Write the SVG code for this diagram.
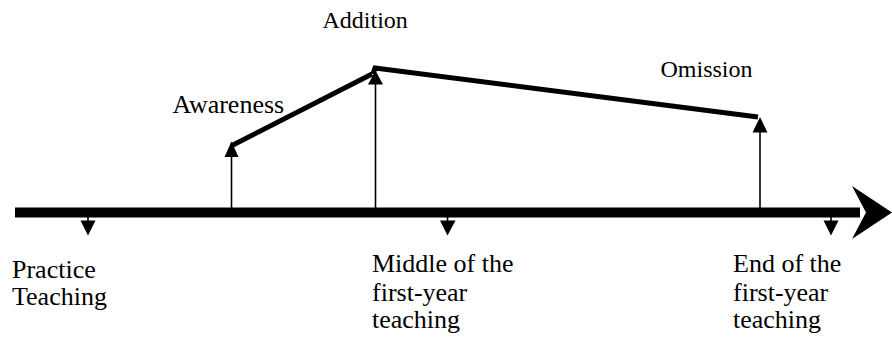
<svg xmlns="http://www.w3.org/2000/svg" width="892" height="340" viewBox="0 0 892 340">
<style>
.t{font-family:"Liberation Serif","Times New Roman",serif;fill:#000}
.big{font-size:26px}
.sm{font-size:24px}
.thin{stroke:#000;stroke-width:1.6;fill:none}
.thick{stroke:#000;stroke-width:5;fill:none}
.head{fill:#000}
</style>
<rect width="892" height="340" fill="#fff"/>
<g id="connectors">
  <rect x="15" y="207.5" width="845" height="10" fill="#000"/>
  <polygon class="head" points="852,186 892,212.5 852,239 866,212.5"/>
  <line class="thin" x1="231.5" y1="155" x2="231.5" y2="208"/>
  <polygon class="head" points="231.5,141.5 224.5,157 238.5,157"/>
  <line class="thin" x1="375.5" y1="82" x2="375.5" y2="208"/>
  <polygon class="head" points="375.5,70.5 368,84.5 383,84.5"/>
  <line class="thin" x1="760" y1="131" x2="760" y2="208"/>
  <polygon class="head" points="760,117 752.5,132.5 767.5,132.5"/>
  <line class="thick" x1="231" y1="146" x2="372" y2="74"/>
  <polyline class="thick" points="373,74 375,68 758,117"/>
  <line class="thin" x1="88" y1="217" x2="88" y2="222"/>
  <polygon class="head" points="80.5,220.5 95.5,220.5 88,235.5"/>
  <line class="thin" x1="447.5" y1="217" x2="447.5" y2="222"/>
  <polygon class="head" points="440,220.5 455.5,220.5 447.5,235.5"/>
  <line class="thin" x1="831" y1="217" x2="831" y2="222"/>
  <polygon class="head" points="823.5,220.5 838.5,220.5 831,235.5"/>
</g>
<g id="addition"><text class="t sm" x="322.5" y="28.3">Addition</text></g>
<g id="awareness"><text class="t big" x="172.5" y="113">Awareness</text></g>
<g id="omission"><text class="t sm" x="660.5" y="76.7">Omission</text></g>
<g id="practice"><text class="t big" x="12" y="277.5">Practice<tspan x="12" y="304.5">Teaching</tspan></text></g>
<g id="middle"><text class="t big" x="372" y="272.3">Middle of the<tspan x="372" y="300.5">first-year</tspan><tspan x="372" y="327.7">teaching</tspan></text></g>
<g id="end"><text class="t big" x="733" y="272.3">End of the<tspan x="733" y="300.5">first-year</tspan><tspan x="733" y="327.7">teaching</tspan></text></g>
</svg>
